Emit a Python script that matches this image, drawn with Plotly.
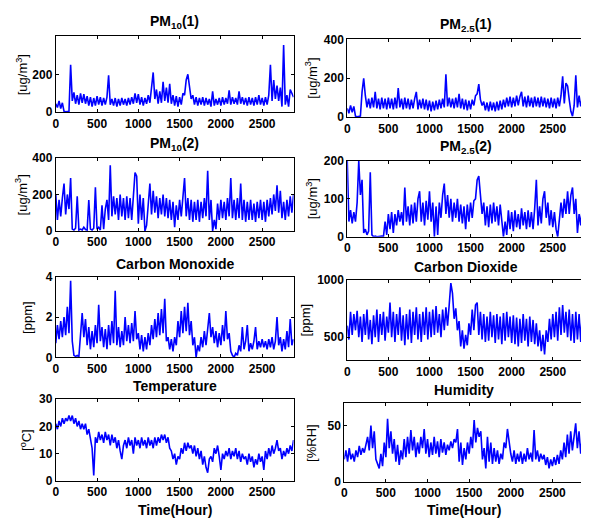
import numpy as np
import plotly.graph_objects as go

STEP = 20  # hours between readings as drawn

pm10_1 = [45,25,60,20,50,5,3,4,5,250, 60,105,45,90,40,100,50,95,45,85,
          35,80,30,75,35,85,40,80,35,75, 40,80,195,40,70,35,75,30,70,35,
          75,40,70,35,75,40,80,45,100,50, 95,40,80,35,75,45,90,50,140,210,
          70,120,45,110,50,160,60,130,50,150, 45,90,35,85,30,80,40,100,90,170,
          200,120,70,90,40,80,35,75,40,80, 35,75,40,70,30,110,35,70,40,75,
          35,80,40,75,45,115,40,80,45,75, 40,110,45,80,40,75,35,80,40,75,
          35,80,40,90,40,75,35,80,40,90, 250,60,170,70,140,60,130,30,355,40,
          90,30,120,100,80]

pm25_1 = [45,20,60,25,55,5,2,3,5,130, 200,110,50,95,45,100,50,130,45,95,
          40,100,45,95,40,100,45,95,40,100, 45,150,50,95,40,100,45,95,40,90,
          45,95,130,40,90,45,95,40,90,35, 85,30,80,35,85,40,90,45,95,50,
          220,55,100,50,95,45,100,50,120,45, 95,40,90,35,85,40,90,60,110,120,
          170,90,60,80,35,75,30,80,35,75, 30,80,35,85,40,90,50,100,55,105,
          50,100,55,110,60,105,130,55,105,50, 110,55,100,50,105,55,100,50,105,55,
          100,50,95,45,100,50,95,45,100,55, 110,210,70,175,160,90,30,5,60,215,
          50,110,55,100,70]

pm10_2 = [200,60,170,80,180,260,90,200,120,290, 10,5,15,190,5,10,5,20,8,5,
          170,10,5,15,240,10,20,5,140,10, 120,170,60,360,80,190,90,180,60,200,
          80,180,60,190,70,180,60,200,320,300, 40,200,60,180,0,30,160,260,90,220,
          100,190,70,180,90,200,80,180,70,170, 60,160,20,140,60,170,80,190,290,80,
          180,60,170,50,160,60,170,50,160,70, 180,80,330,60,170,0,60,10,150,60,
          170,70,160,60,180,80,290,70,170,60, 180,70,260,60,170,50,160,60,170,60,
          150,50,160,70,170,60,160,50,170,80, 180,90,200,110,250,100,220,70,160,60,
          170,80,190,100,200]

pm25_2 = [200,40,70,35,65,40,90,200,110,150, 10,20,5,15,170,5,0,2,0,1,
          0,2,0,40,5,60,20,65,10,60, 30,70,40,65,30,130,40,80,30,85,
          35,90,40,100,120,40,90,30,95,45, 120,40,90,0,80,5,90,50,110,140,
          60,110,50,100,40,90,50,100,40,85, 35,80,20,85,40,90,50,95,100,150,
          160,100,60,90,30,80,25,85,35,90, 40,80,30,85,40,0,40,5,70,20,
          65,15,70,25,60,20,75,30,65,20, 70,25,65,20,75,150,30,80,35,100,
          120,50,90,30,70,25,65,20,0,40, 90,50,100,60,120,60,110,130,60,100,
          10,60,30,80,90]

co = [0.7,1.6,0.9,1.8,1.0,2.0,1.1,2.5,1.2,3.8, 0.8,0.1,0.05,0.1,0.05,1.2,2.2,1.0,1.9,0.6,
      1.5,0.4,1.3,0.5,1.6,0.7,2.6,0.8,1.5,0.5, 1.4,0.4,1.6,0.6,1.8,0.7,3.3,0.6,1.5,0.5,
      1.3,0.6,2.0,0.8,1.6,0.7,1.7,0.8,2.3,0.9, 1.2,0.4,1.1,0.3,1.0,0.4,1.2,0.6,1.6,0.9,
      1.9,1.0,2.2,1.1,2.4,1.2,2.9,0.8,1.0,0.4, 0.9,0.3,1.0,0.6,1.8,1.0,2.3,1.2,2.5,1.3,
      2.7,1.1,1.8,0.6,1.0,0.0,0.6,0.3,1.0,0.5, 1.3,0.6,1.6,2.2,1.0,1.5,0.7,1.3,0.5,1.2,
      0.6,1.6,0.8,2.3,0.9,1.2,0.3,0.1,0.0,0.2, 0.1,0.6,0.3,1.5,0.4,0.8,1.6,0.3,0.7,0.4,
      0.8,1.5,0.4,0.8,0.5,0.9,0.5,0.8,0.4,0.9, 0.5,1.0,0.4,0.8,2.0,0.6,1.0,0.3,0.9,0.4,
      1.3,0.5,1.9,0.6,0.9]

co2 = [600,480,720,520,700,560,730,500,680,460, 700,520,740,480,650,440,690,500,740,460,
       700,520,720,470,680,540,800,500,720,460, 700,520,760,470,690,430,700,480,740,450,
       720,520,760,480,700,460,720,520,760,480, 720,500,740,520,770,540,700,500,740,560,
       760,600,780,970,880,660,750,560,640,420, 560,400,520,430,620,520,740,560,780,800,
       520,720,480,700,460,680,470,720,500,690, 450,700,480,680,440,710,470,720,500,680,
       450,690,440,670,420,660,450,700,470,660, 420,680,460,650,440,620,420,560,380,520,
       350,560,460,660,480,700,500,720,470,760, 520,780,540,720,500,740,470,700,450,720,
       480,700,460,720,560]

temperature = [21,19,22,20,23,21,23,22,24,22, 24,21,23,20,22,19,21,19,21,17,
               19,16,12,2,16,14,18,15,17,14, 18,15,17,13,17,14,16,12,15,11,
               8,13,15,12,16,13,15,10,16,13, 15,12,16,13,15,12,16,13,15,12,
               16,13,16,14,17,15,17,14,16,12, 11,8,10,6,9,8,12,10,14,11,
               14,12,13,10,13,9,12,8,11,6, 9,5,3,8,9,7,12,10,13,9,
               4,10,8,11,9,12,8,11,9,12, 8,11,7,10,8,9,6,10,7,9,
               5,8,6,10,7,9,4,11,8,12, 9,13,10,12,15,11,12,8,11,9,
               12,10,13,11,15]

humidity = [20,28,18,30,20,25,18,28,22,32, 24,30,26,35,40,28,50,30,45,20,
            15,12,25,14,35,22,56,30,45,25, 38,18,33,15,28,20,38,22,40,25,
            46,28,40,22,35,25,40,30,47,25, 38,22,35,24,40,25,36,22,38,26,
            35,24,33,28,36,30,38,35,47,18, 35,15,30,20,35,25,40,30,55,35,
            48,40,45,20,30,12,40,18,35,16, 30,18,28,16,25,20,35,30,47,35,
            25,18,28,16,25,18,27,16,25,18, 30,20,26,18,46,20,28,18,25,20,
            24,15,22,12,20,14,22,15,24,16, 28,20,35,22,42,25,45,28,38,52,
            30,45,25,40,22]

x_ticks = [0, 500, 1000, 1500, 2000, 2500]
titles = ["PM<sub>10</sub>(1)", "PM<sub>2.5</sub>(1)", "PM<sub>10</sub>(2)", "PM<sub>2.5</sub>(2)",
          "Carbon Monoxide", "Carbon Dioxide", "Temperature", "Humidity"]
ylabels = ["[ug/m<sup>3</sup>]", "[ug/m<sup>3</sup>]", "[ug/m<sup>3</sup>]", "[ug/m<sup>3</sup>]",
           "[ppm]", "[ppm]", "[<sup>o</sup>C]", "[%RH]"]
series = [pm10_1, pm25_1, pm10_2, pm25_2, co, co2, temperature, humidity]
y_ranges = [[0, 400], [0, 400], [0, 400], [0, 200], [0, 4], [300, 1000], [0, 30], [0, 70]]
y_ticks = [[0, 200], [0, 200, 400], [0, 200, 400], [0, 100, 200], [0, 2, 4], [500, 1000],
           [0, 10, 20, 30], [0, 50]]

# the page body has an 8px margin; figure sized so that nothing overflows
OX, OY = 8, 8
W, H = 581, 512
# axes boxes in screen pixels: (left, right, top, bottom)
boxes = [(53, 292, 30, 108), (346, 584, 33, 113),
         (53, 292, 155, 230), (346, 584, 158, 236),
         (53, 292, 277, 360), (346, 584, 280, 363),
         (53, 292, 403, 487), (343, 584, 407, 488)]
ylabel_x = [19, 310, 19, 310, 24, 304, 23, 310]

FONT = "Arial, Liberation Sans"


def px(p):
    return (p - OX) / W


def py(p):
    return 1 - (p - OY) / H


fig = go.Figure()
annotations = []
tickfont = dict(family=FONT, size=12, color="black", weight="bold")
for i, (vals, box) in enumerate(zip(series, boxes)):
    n = i + 1
    xs = np.arange(len(vals)) * STEP
    fig.add_trace(go.Scatter(x=xs, y=vals, mode="lines", line=dict(color="#0000ff", width=1.6),
                             xaxis=f"x{n}", yaxis=f"y{n}", hoverinfo="skip"))
    l, r, t, b = box
    common = dict(showline=True, linecolor="black", linewidth=1, mirror="ticks",
                  ticks="inside", ticklen=3, tickcolor="black", showgrid=False,
                  zeroline=False, tickfont=tickfont)
    fig.update_layout(**{
        f"xaxis{n}": dict(domain=[px(l), px(r)], range=[0, 2880], tickvals=x_ticks, anchor=f"y{n}", **common),
        f"yaxis{n}": dict(domain=[py(b), py(t)], range=y_ranges[i], tickvals=y_ticks[i], anchor=f"x{n}", **common),
    })
    cx = px((l + r) / 2)
    annotations.append(dict(text=f"<b>{titles[i]}</b>", x=cx, y=py(t - 3), xref="paper", yref="paper",
                            xanchor="center", yanchor="bottom", showarrow=False,
                            font=dict(family=FONT, size=14, color="black")))
    annotations.append(dict(text=ylabels[i], x=px(ylabel_x[i]), y=py((t + b) / 2), xref="paper", yref="paper",
                            xanchor="center", yanchor="middle", textangle=-90, showarrow=False,
                            font=dict(family=FONT, size=13, color="black")))

for cxp in [(53 + 292) / 2, (343 + 584) / 2]:
    annotations.append(dict(text="<b>Time(Hour)</b>", x=px(cxp), y=py(517), xref="paper", yref="paper",
                            xanchor="center", yanchor="middle", showarrow=False,
                            font=dict(family=FONT, size=14, color="black")))

fig.update_layout(width=W, height=H, margin=dict(l=0, r=0, t=0, b=0),
                  paper_bgcolor="white", plot_bgcolor="white", showlegend=False,
                  annotations=annotations)
fig.write_html("out.html")
